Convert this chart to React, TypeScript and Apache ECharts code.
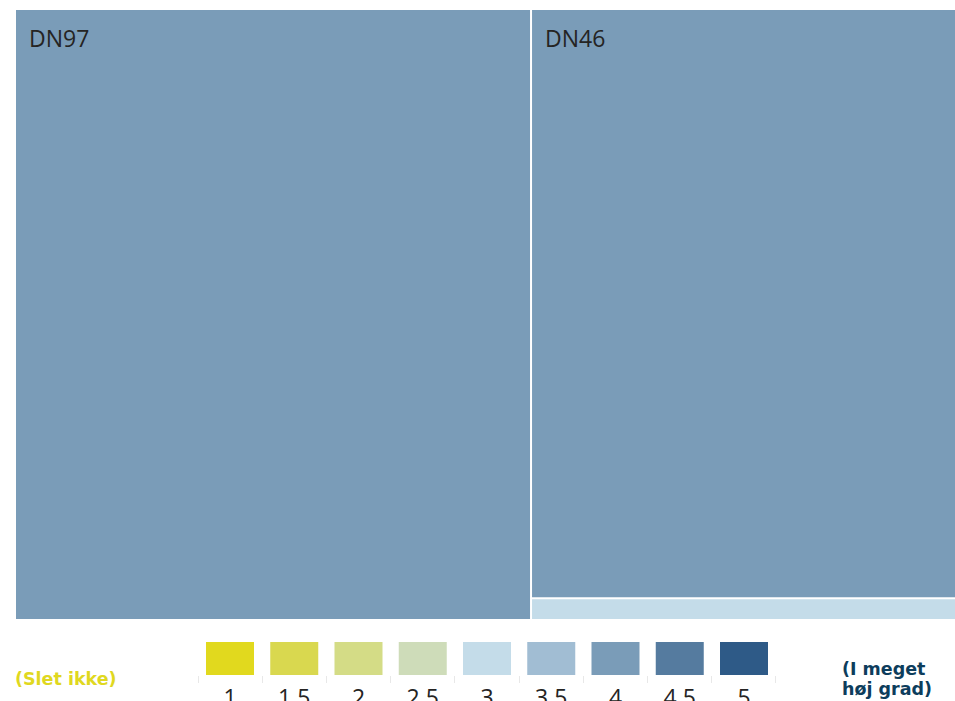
import React, { useEffect, useRef } from "react";
import * as echarts from "echarts";

// ---- data ----
const groups = ["DN97", "DN46"];
const groupValues = [[34], [27, 1]];
const groupScores = [[4], [4, 3]];

const legendScores = [1, 1.5, 2, 2.5, 3, 3.5, 4, 4.5, 5];
const legendColors = [
  "#e1d91e",
  "#d9d84f",
  "#d4dc86",
  "#cedcb9",
  "#c4dce9",
  "#a1bdd3",
  "#7a9cb8",
  "#557b9f",
  "#2e5a87",
];
const lowLabel = "(Slet ikke)";
const highLabel = "(I meget\nhøj grad)";

const colorFor = (s: number) => legendColors[legendScores.indexOf(s)];

export default function App() {
  const ref = useRef<HTMLDivElement>(null);

  useEffect(() => {
    document.body.style.margin = "0";
    document.documentElement.style.overflow = "hidden";
    const chart = echarts.init(ref.current!, null, {
      renderer: "svg",
      width: 955,
      height: 701,
    });

    const treeData = groups.map((g, gi) => ({
      name: g,
      value: groupValues[gi].reduce((a, b) => a + b, 0),
      children: groupValues[gi].map((v, ci) => ({
        name: g + "-" + ci,
        value: v,
        itemStyle: { color: colorFor(groupScores[gi][ci]) },
        label: { show: ci === 0, formatter: g },
      })),
    }));

    const sqLeft = 206;
    const pitch = 64.25;
    const graphics: any[] = [];
    legendScores.forEach((s, i) => {
      graphics.push({
        type: "rect",
        shape: { x: sqLeft + i * pitch, y: 642, width: 48, height: 33 },
        style: { fill: legendColors[i] },
        silent: true,
      });
      graphics.push({
        type: "text",
        x: sqLeft + 24 + i * pitch,
        y: 685,
        style: {
          text: String(s),
          fill: "#252423",
          fontSize: 23,
          fontFamily: "'Open Sans', sans-serif",
          align: "center",
          verticalAlign: "top",
        },
        silent: true,
      });
    });
    for (let i = 0; i <= legendScores.length; i++) {
      const x = Math.round(198 + i * 64.1) + 0.5;
      graphics.push({
        type: "line",
        shape: { x1: x, y1: 676, x2: x, y2: 683 },
        style: { stroke: "#e8e8e8", lineWidth: 1 },
        silent: true,
      });
    }
    graphics.push({
      type: "text",
      x: 15,
      y: 678.5,
      style: {
        text: lowLabel,
        fill: "#e0d81f",
        fontSize: 17.5,
        fontWeight: "bold",
        fontFamily: "'DejaVu Sans', sans-serif",
        align: "left",
        verticalAlign: "middle",
      },
      silent: true,
    });
    graphics.push({
      type: "text",
      x: 842,
      y: 678.5,
      style: {
        text: highLabel,
        fill: "#0d3d5c",
        fontSize: 17.5,
        lineHeight: 20,
        fontWeight: "bold",
        fontFamily: "'DejaVu Sans', sans-serif",
        align: "left",
        verticalAlign: "middle",
      },
      silent: true,
    });

    chart.setOption({
      animation: false,
      tooltip: { show: false },
      graphic: graphics,
      series: [
        {
          type: "treemap",
          left: 16,
          top: 10,
          width: 939,
          height: 609,
          roam: false,
          nodeClick: false,
          breadcrumb: { show: false },
          data: treeData,
          label: {
            show: true,
            position: [8, 11],
            color: "#252423",
            fontSize: 23,
            fontFamily: "'Open Sans', sans-serif",
          },
          upperLabel: { show: false },
          levels: [
            { itemStyle: { borderWidth: 0, gapWidth: 2, borderColor: "#fff" } },
            { itemStyle: { borderWidth: 0, gapWidth: 2, borderColor: "#fff" } },
            { itemStyle: { borderWidth: 0, gapWidth: 0, borderColor: "#fff" } },
          ],
        },
      ],
    });
    return () => chart.dispose();
  }, []);

  return <div ref={ref} style={{ width: 955, height: 701 }} />;
}
